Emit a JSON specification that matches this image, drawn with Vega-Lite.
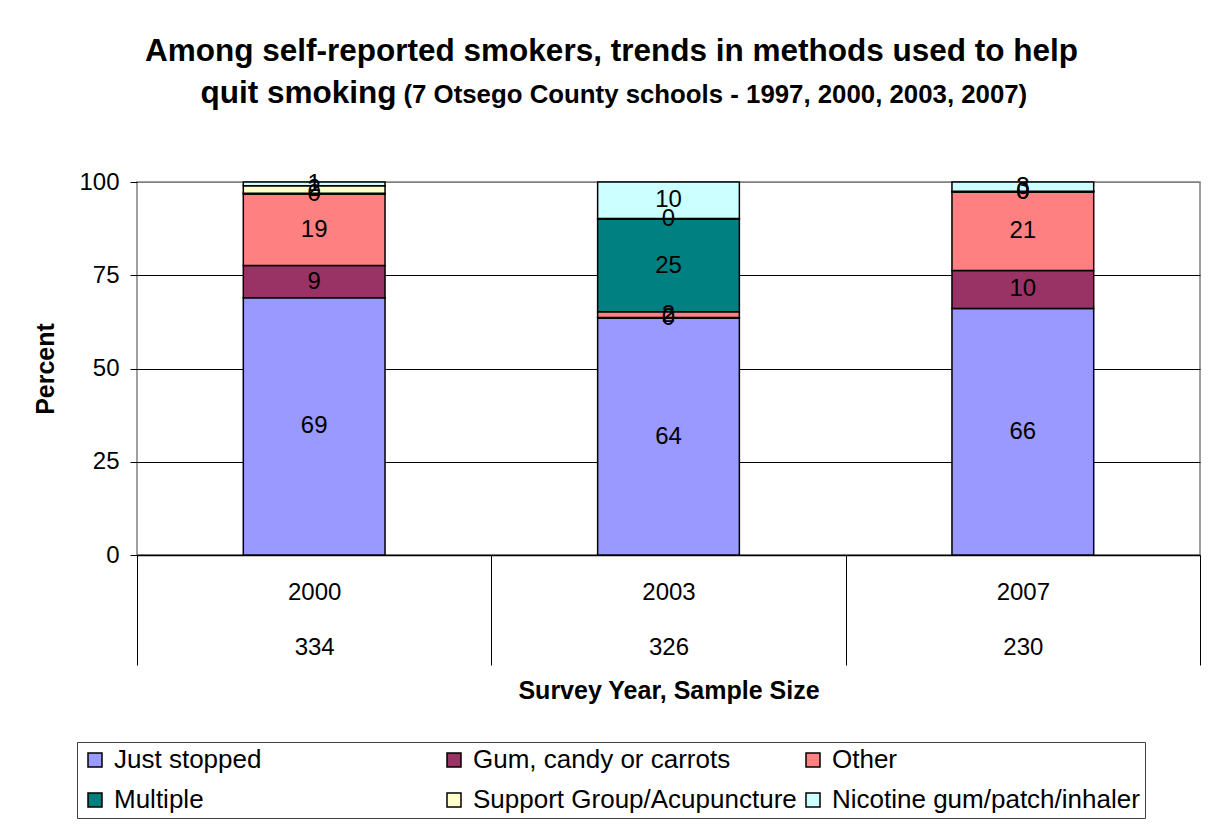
{
  "$schema": "https://vega.github.io/schema/vega-lite/v6.json",
  "width": 1063,
  "height": 373,
  "autosize": {"type": "none"},
  "padding": {"left": 137, "top": 182, "right": 15, "bottom": 279},
  "background": "white",
  "config": {
    "font": "Liberation Sans",
    "view": {"stroke": "#808080", "strokeWidth": 1.5}
  },
  "title": {
    "text": "Among self-reported smokers, trends in methods used to help",
    "anchor": "middle",
    "frame": "group",
    "dx": -57,
    "offset": 10,
    "font": "Liberation Sans",
    "fontSize": 31.5,
    "fontWeight": "bold",
    "color": "black"
  },
  "data": {
    "values": [
      {"survey": "2000, 334", "method": "Just stopped", "rank": 1, "pct": 69.0},
      {"survey": "2000, 334", "method": "Gum, candy or carrots", "rank": 2, "pct": 8.6},
      {"survey": "2000, 334", "method": "Other", "rank": 3, "pct": 19.2},
      {"survey": "2000, 334", "method": "Multiple", "rank": 4, "pct": 0.2},
      {"survey": "2000, 334", "method": "Support Group/Acupuncture", "rank": 5, "pct": 2.0},
      {"survey": "2000, 334", "method": "Nicotine gum/patch/inhaler", "rank": 6, "pct": 1.0},
      {"survey": "2003, 326", "method": "Just stopped", "rank": 1, "pct": 63.5},
      {"survey": "2003, 326", "method": "Gum, candy or carrots", "rank": 2, "pct": 0.2},
      {"survey": "2003, 326", "method": "Other", "rank": 3, "pct": 1.5},
      {"survey": "2003, 326", "method": "Multiple", "rank": 4, "pct": 24.8},
      {"survey": "2003, 326", "method": "Support Group/Acupuncture", "rank": 5, "pct": 0.2},
      {"survey": "2003, 326", "method": "Nicotine gum/patch/inhaler", "rank": 6, "pct": 9.8},
      {"survey": "2007, 230", "method": "Just stopped", "rank": 1, "pct": 66.1},
      {"survey": "2007, 230", "method": "Gum, candy or carrots", "rank": 2, "pct": 10.2},
      {"survey": "2007, 230", "method": "Other", "rank": 3, "pct": 21.0},
      {"survey": "2007, 230", "method": "Multiple", "rank": 4, "pct": 0.1},
      {"survey": "2007, 230", "method": "Support Group/Acupuncture", "rank": 5, "pct": 0.1},
      {"survey": "2007, 230", "method": "Nicotine gum/patch/inhaler", "rank": 6, "pct": 2.5}
    ]
  },
  "encoding": {
    "x": {
      "field": "survey",
      "type": "nominal",
      "scale": {"paddingInner": 0, "paddingOuter": 0},
      "axis": {
        "title": "Survey Year, Sample Size",
        "titleFontSize": 25,
        "titleFontWeight": "bold",
        "titleColor": "black",
        "titleY": 135,
        "titleBaseline": "middle",
        "labelAngle": 0,
        "labelFontSize": 24,
        "labelColor": "black",
        "labelExpr": "[slice(datum.label, 0, 4), slice(datum.label, 6)]",
        "labelLineHeight": 55,
        "labelPadding": -85,
        "tickBand": "extent",
        "tickSize": 110,
        "tickColor": "black",
        "tickWidth": 1,
        "domainColor": "black",
        "domainWidth": 1.5
      }
    },
    "y": {
      "field": "pct",
      "type": "quantitative",
      "stack": "zero",
      "scale": {"domain": [0, 100], "nice": false},
      "axis": {
        "title": "Percent",
        "titleFontSize": 25,
        "titleFontWeight": "bold",
        "titleColor": "black",
        "titleX": -92,
        "titleY": 186.5,
        "titleAngle": -90,
        "titleBaseline": "middle",
        "titleAlign": "center",
        "values": [0, 25, 50, 75, 100],
        "labelFontSize": 24,
        "labelColor": "black",
        "labelPadding": 11,
        "tickSize": 7,
        "tickColor": "black",
        "domain": false,
        "gridColor": {"condition": {"test": "datum.value >= 100", "value": "#808080"}, "value": "black"},
        "gridWidth": 1
      }
    },
    "order": {"field": "rank", "type": "quantitative", "sort": "ascending"},
    "color": {
      "field": "method",
      "type": "nominal",
      "sort": ["Just stopped", "Gum, candy or carrots", "Other", "Multiple", "Support Group/Acupuncture", "Nicotine gum/patch/inhaler"],
      "scale": {
        "domain": ["Just stopped", "Gum, candy or carrots", "Other", "Multiple", "Support Group/Acupuncture", "Nicotine gum/patch/inhaler"],
        "range": ["#9999FF", "#993366", "#FF8080", "#008080", "#FFFFCC", "#CCFFFF"]
      },
      "legend": {
        "title": null,
        "orient": "none",
        "legendX": -60,
        "legendY": 560,
        "direction": "horizontal",
        "columns": 3,
        "gridAlign": "all",
        "labelFontSize": 26,
        "labelColor": "black",
        "labelLimit": 500,
        "labelOffset": 6,
        "symbolType": "square",
        "symbolSize": 196,
        "symbolStrokeColor": "black",
        "symbolStrokeWidth": 1.5,
        "symbolOpacity": 1,
        "strokeColor": "#404040",
        "fillColor": "white",
        "padding": 5,
        "rowPadding": 14,
        "columnPadding": 3
      }
    }
  },
  "layer": [
    {
      "mark": {"type": "bar", "width": {"band": 0.4}, "stroke": "black", "strokeWidth": 1.5}
    },
    {
      "mark": {"type": "text", "fontSize": 24, "baseline": "middle"},
      "encoding": {
        "x": {
          "field": "survey",
          "type": "nominal",
          "axis": {
            "orient": "top",
            "labels": false,
            "ticks": false,
            "domain": false,
            "grid": false,
            "title": "quit smoking",
            "titleX": 63,
            "titleY": -80,
            "titleAlign": "left",
            "titleAnchor": null,
            "titleBaseline": "alphabetic",
            "titleFontSize": 31.5,
            "titleFontWeight": "bold",
            "titleColor": "black"
          }
        },
        "y": {
          "field": "pct",
          "type": "quantitative",
          "stack": "zero",
          "bandPosition": 0.5,
          "axis": {
            "orient": "right",
            "labels": false,
            "ticks": false,
            "domain": false,
            "grid": false,
            "title": "(7 Otsego County schools - 1997, 2000, 2003, 2007)",
            "titleAngle": 0,
            "titleX": -797,
            "titleY": -80,
            "titleAlign": "left",
            "titleBaseline": "alphabetic",
            "titleFontSize": 25.8,
            "titleFontWeight": "bold",
            "titleColor": "black"
          }
        },
        "fill": {"value": "black"},
        "text": {"field": "pct", "type": "quantitative", "format": ".0f"}
      }
    }
  ],
  "resolve": {"axis": {"x": "independent", "y": "independent"}}
}
